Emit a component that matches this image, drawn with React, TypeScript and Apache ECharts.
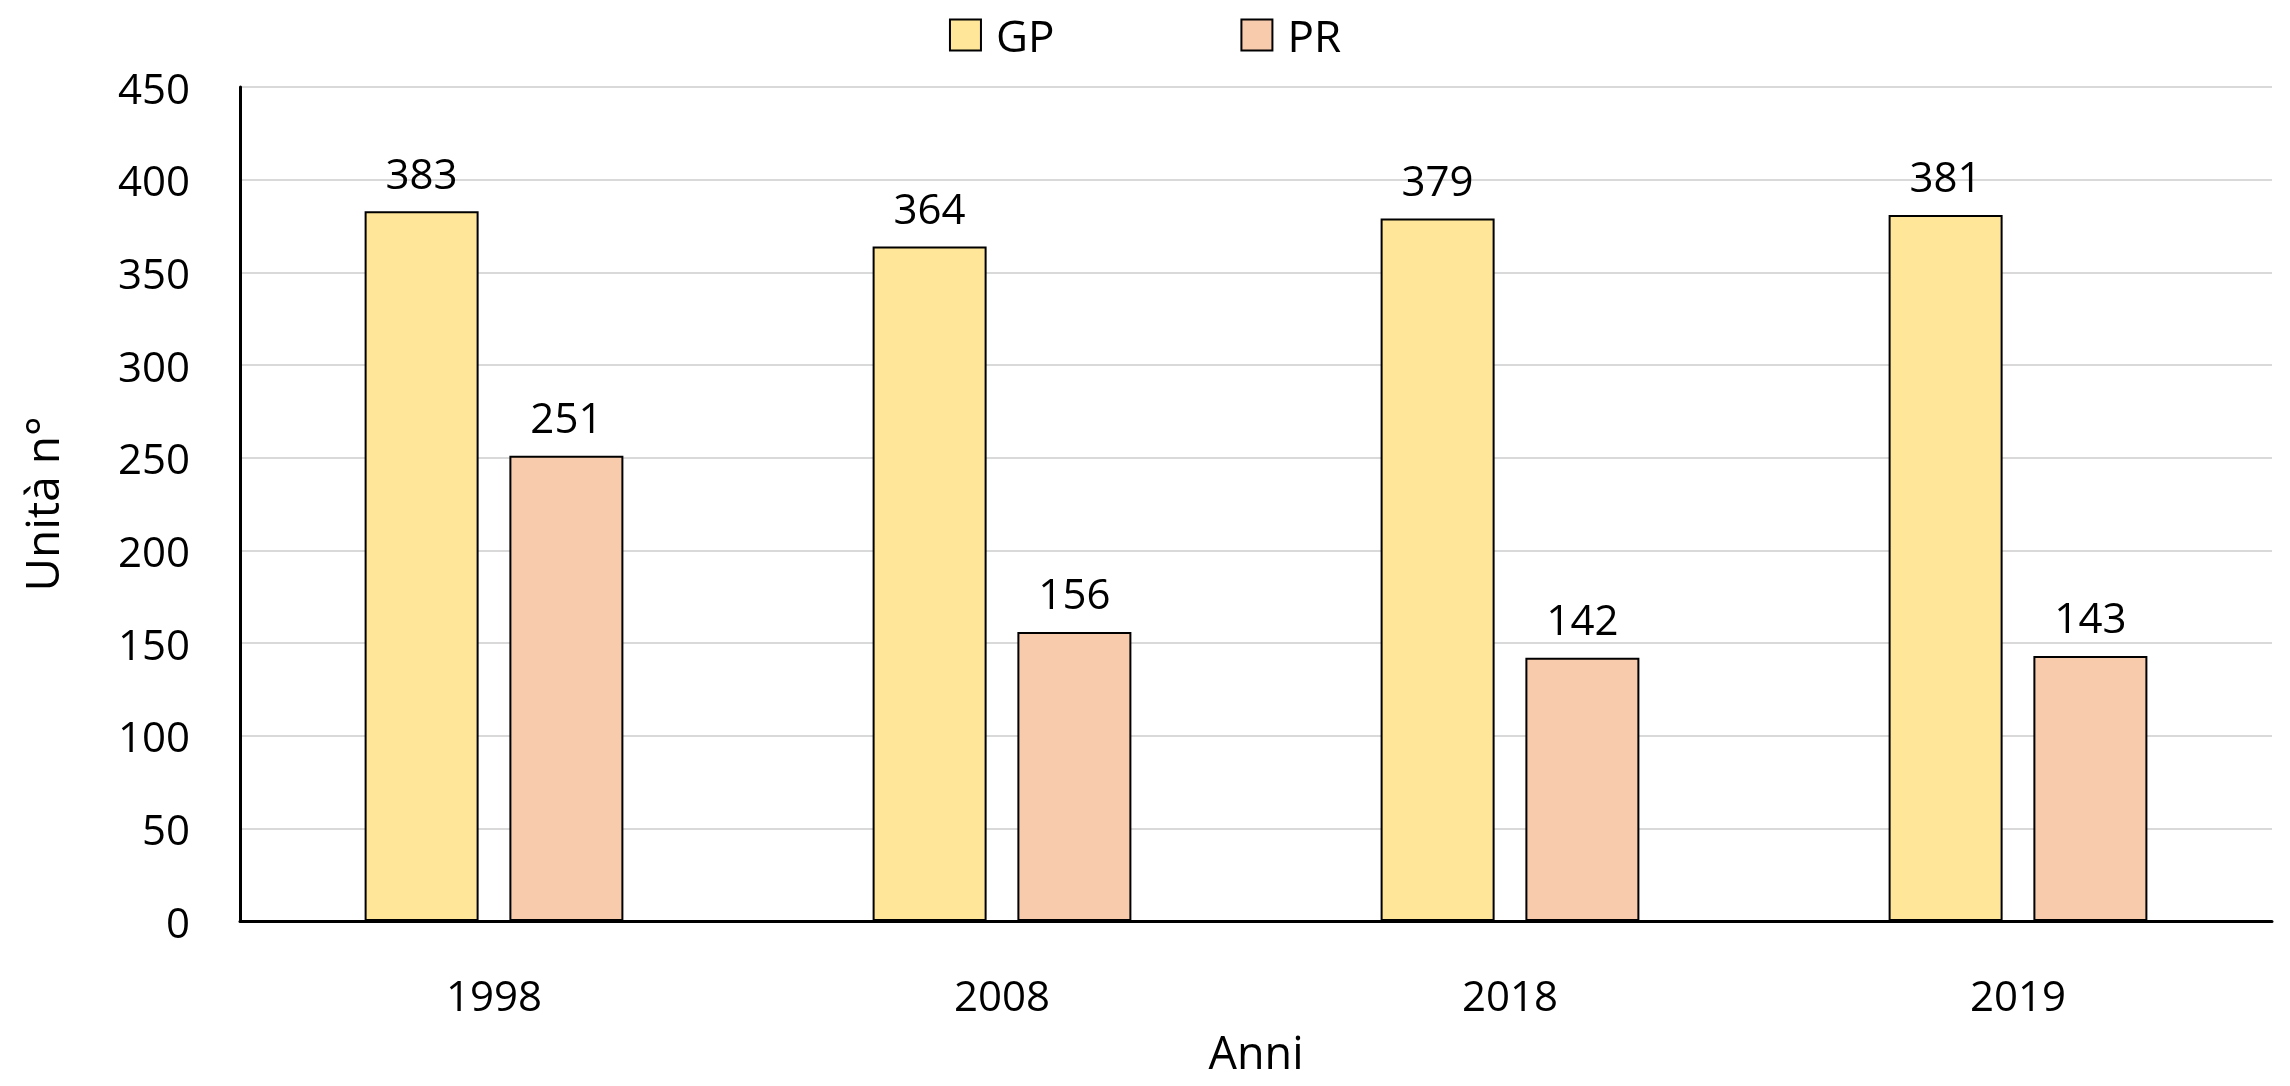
import React, { useEffect, useRef } from "react";
import * as echarts from "echarts";

const categories = ["1998", "2008", "2018", "2019"];
const gpValues = [383, 364, 379, 381];
const prValues = [251, 156, 142, 143];
const seriesNames = ["GP", "PR"];

const FONT = "'Open Sans', 'Noto Sans', sans-serif";

export default function App() {
  const ref = useRef<HTMLDivElement>(null);
  useEffect(() => {
    if (!ref.current) return;
    const chart = echarts.init(ref.current, null, { renderer: "svg" });
    const label = {
      show: true,
      position: "top",
      distance: 18,
      color: "#000",
      fontSize: 42,
      fontFamily: FONT,
    };
    chart.setOption({
      animation: false,
      textStyle: { fontFamily: FONT },
      legend: {
        top: 8,
        left: "center",
        itemWidth: 31,
        itemHeight: 31,
        itemGap: 186,
        icon: "rect",
        textStyle: { fontSize: 44, color: "#000", fontFamily: FONT, padding: [0, 0, 0, 10] },
        data: seriesNames,
      },
      grid: {
        left: 240,
        right: 18,
        top: 87,
        bottom: 165,
        containLabel: false,
        outerBoundsMode: "none",
      },
      xAxis: {
        type: "category",
        data: categories,
        name: "Anni",
        nameLocation: "middle",
        nameGap: 108,
        nameTextStyle: { fontSize: 45, lineHeight: 44, color: "#000", fontFamily: FONT },
        axisLine: { lineStyle: { color: "#000", width: 3 } },
        axisTick: { show: false },
        axisLabel: { fontSize: 42, color: "#000", margin: 52, fontFamily: FONT },
      },
      yAxis: {
        type: "value",
        min: 0,
        max: 450,
        interval: 50,
        name: "Unità n°",
        nameLocation: "middle",
        nameGap: 176,
        nameTextStyle: { fontSize: 46, color: "#000", fontFamily: FONT },
        axisLine: { show: true, lineStyle: { color: "#000", width: 3 } },
        axisTick: { show: false },
        axisLabel: { fontSize: 42, color: "#000", margin: 50, fontFamily: FONT },
        splitLine: { lineStyle: { color: "#d9d9d9", width: 2 } },
      },
      series: [
        {
          name: seriesNames[0],
          type: "bar",
          data: gpValues,
          barWidth: 114,
          barGap: "27%",
          itemStyle: { color: "#FFE699", borderColor: "#000", borderWidth: 2 },
          label,
        },
        {
          name: seriesNames[1],
          type: "bar",
          data: prValues,
          barWidth: 114,
          itemStyle: { color: "#F8CBAD", borderColor: "#000", borderWidth: 2 },
          label,
        },
      ],
    });
    return () => chart.dispose();
  }, []);
  return (
    <div
      ref={ref}
      style={{ position: "fixed", left: 0, top: 0, width: 2290, height: 1086 }}
    />
  );
}
